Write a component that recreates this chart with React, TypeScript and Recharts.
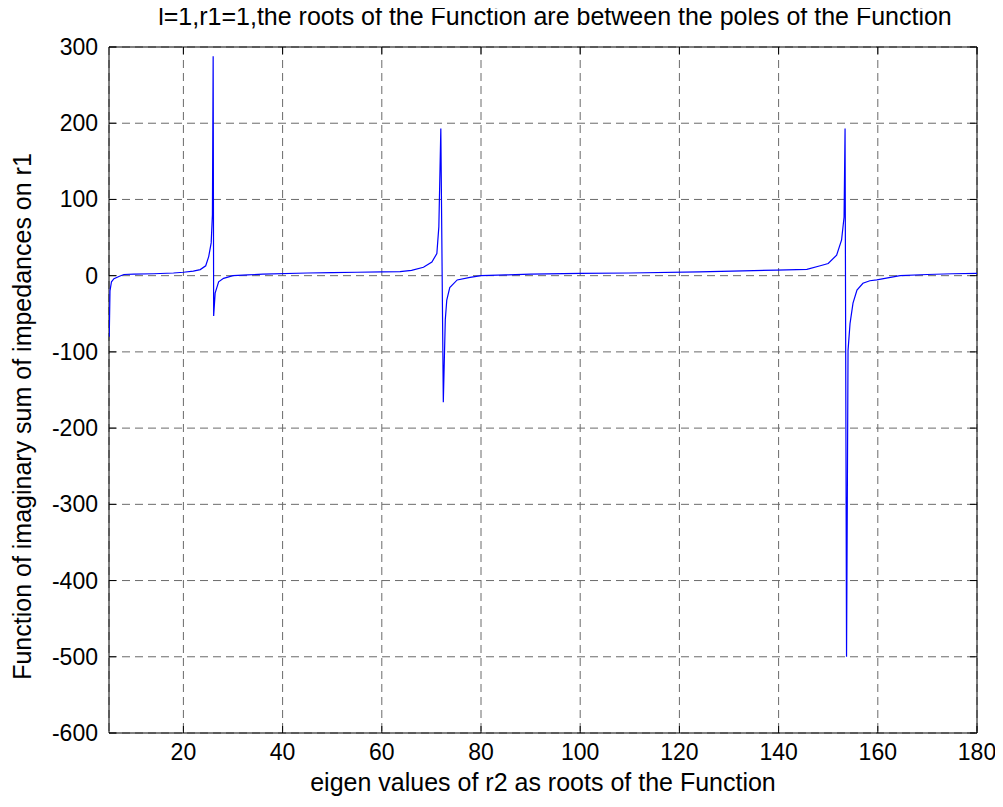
import React from 'react';
import { LineChart, Line, XAxis, YAxis, CartesianGrid, ReferenceArea } from 'recharts';

const xValues = [
  5.05, 5.2, 5.5, 6, 7, 8, 10, 14, 18, 20, 22, 23.4, 24.5, 25.1, 25.6, 25.85, 26.0,
  26.1, 26.4, 27.1, 28.1, 30, 33, 36, 45, 50, 55, 60, 63.7, 66, 68.4, 70.1, 71.1, 71.5, 71.9,
  72.4, 72.8, 73.1, 73.7, 75.2, 77.8, 80, 85, 90, 100, 110, 124, 135, 139.6, 145.7, 148.4,
  150, 151.7, 152.7, 153.2, 153.4,
  153.7, 154, 154.4, 155, 155.8, 157, 158.4, 159.8, 162, 164.5, 170, 175, 180,
];
const yValues = [
  -80, -20, -8, -4, -1, 1.5, 2, 2.5, 3.5, 4.5, 6, 8, 13, 25, 43, 80, 288,
  -53, -23, -8, -3.5, 0, 1, 2, 3.5, 4, 4.5, 5, 5.2, 7, 11, 18, 29, 64, 193,
  -166, -58, -32, -15.6, -5.6, -2.2, 0, 1, 2, 3, 3.5, 5, 6.5, 7.4, 8.3, 13,
  16, 27, 47, 77, 193,
  -500, -98, -63, -36, -19, -10, -6.7, -5.6, -3, 0, 1.5, 2.5, 3,
];
const xTicks = [20, 40, 60, 80, 100, 120, 140, 160, 180];
const yTicks = [-600, -500, -400, -300, -200, -100, 0, 100, 200, 300];

const titleText = 'l=1,r1=1,the roots of the Function are between the poles of the Function';
const xLabelText = 'eigen values of r2 as roots of the Function';
const yLabelText = 'Function of imaginary sum of impedances on r1';

const data = xValues.map((x, i) => ({ x, y: yValues[i] }));

const W = 995;
const H = 799;
const PLOT = { left: 101, right: 969, top: 39, bottom: 725 };
const FONT = '"Liberation Sans", Arial, Helvetica, sans-serif';
const TICK_LEN = 7;

const XTick = (props: any) => {
  const { x, payload } = props;
  return (
    <g>
      <line x1={x} x2={x} y1={PLOT.bottom} y2={PLOT.bottom - TICK_LEN} stroke="#000" />
      <line x1={x} x2={x} y1={PLOT.top} y2={PLOT.top + TICK_LEN} stroke="#000" />
      <text x={x} y={752} textAnchor="middle" fontSize={23} fontFamily={FONT} fill="#000">
        {payload.value}
      </text>
    </g>
  );
};

const YTick = (props: any) => {
  const { y, payload } = props;
  return (
    <g>
      <line x1={PLOT.left} x2={PLOT.left + TICK_LEN} y1={y} y2={y} stroke="#000" />
      <line x1={PLOT.right} x2={PLOT.right - TICK_LEN} y1={y} y2={y} stroke="#000" />
      <text x={90} y={y + 8} textAnchor="end" fontSize={23} fontFamily={FONT} fill="#000">
        {payload.value}
      </text>
    </g>
  );
};

export default function App() {
  return (
    <div style={{ position: 'relative', width: W, height: H, background: '#fff' }}>
      <LineChart
        width={W}
        height={H}
        data={data}
        margin={{ top: PLOT.top, right: W - PLOT.right, left: 11, bottom: 34 }}
      >
        <CartesianGrid stroke="#6a6a6a" strokeDasharray="8 5" />
        <XAxis
          dataKey="x"
          type="number"
          domain={[5, 180]}
          ticks={xTicks}
          allowDataOverflow
          height={40}
          tickSize={0}
          axisLine={false}
          tickLine={false}
          tick={<XTick />}
          interval={0}
        />
        <YAxis
          type="number"
          domain={[-600, 300]}
          ticks={yTicks}
          allowDataOverflow
          width={90}
          tickSize={0}
          axisLine={false}
          tickLine={false}
          tick={<YTick />}
          interval={0}
        />
        <Line
          type="linear"
          dataKey="y"
          stroke="#0000ff"
          strokeWidth={1.2}
          dot={false}
          activeDot={false}
          isAnimationActive={false}
        />
        <ReferenceArea x1={5} x2={180} y1={-600} y2={300} fill="none" stroke="#000" strokeWidth={1} />
      </LineChart>
      <div
        style={{
          position: 'absolute', left: 0, width: 1094, top: -4, textAlign: 'center',
          fontFamily: FONT, fontSize: 25, lineHeight: '25px', color: '#000', whiteSpace: 'nowrap',
        }}
      >
        {titleText}
      </div>
      <div
        style={{
          position: 'absolute', left: 0, width: 1070, top: 762, textAlign: 'center',
          fontFamily: FONT, fontSize: 25, lineHeight: '25px', color: '#000', whiteSpace: 'nowrap',
        }}
      >
        {xLabelText}
      </div>
      <div
        style={{
          position: 'absolute', left: 14 - 400, top: 408 - 12, width: 800, textAlign: 'center',
          fontFamily: FONT, fontSize: 25, lineHeight: '25px', color: '#000', whiteSpace: 'nowrap',
          transform: 'rotate(-90deg)', transformOrigin: '50% 50%',
        }}
      >
        {yLabelText}
      </div>
    </div>
  );
}
